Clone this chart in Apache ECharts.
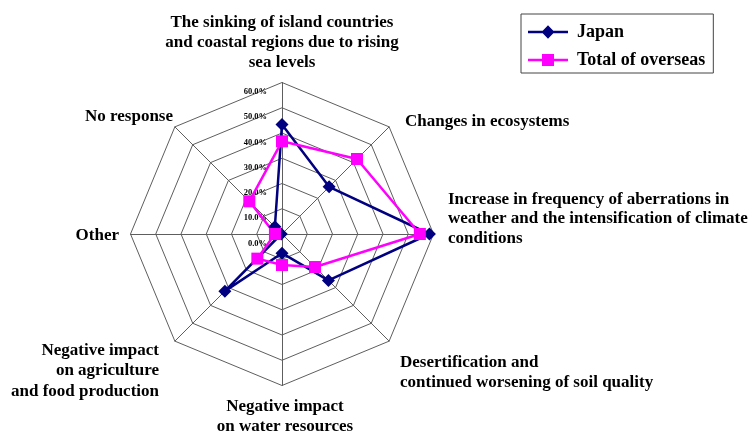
<!DOCTYPE html>
<html>
<head>
<meta charset="utf-8">
<script src="https://cdn.jsdelivr.net/npm/echarts@6/dist/echarts.min.js"></script>
<style>
  html, body { margin: 0; padding: 0; background: #fff; }
  #chart { width: 750px; height: 435px; }
</style>
</head>
<body>
<div id="chart"></div>
<script>
// Axes, listed counter-clockwise starting from the top spoke
const categories = [
  'The sinking of island countries\nand coastal regions due to rising\nsea levels',
  'No response',
  'Other',
  'Negative impact\non agriculture\nand food production',
  'Negative impact\non water resources',
  'Desertification and\ncontinued worsening of soil quality',
  'Increase in frequency of aberrations in\nweather and the intensification of climate\nconditions',
  'Changes in ecosystems'
];
const seriesNames = ['Japan', 'Total of overseas'];
const japanValues    = [43.4, 4.0, 0.3, 32.0, 7.6, 26.0, 58.4, 26.4];
const overseasValues = [36.7, 18.3, 2.8, 13.8, 12.3, 18.5, 54.6, 42.0];
const tickValues = [0, 10, 20, 30, 40, 50, 60];

const FONT = "'Liberation Serif', 'Times New Roman', serif";
const CX = 282, CY = 234, R = 151.5;

// Placement of each axis title: [x, top, align, lineHeight]
const namePlacement = [
  [282, 13, 'center', 20],
  [173, 107, 'right', 20],
  [119, 226, 'right', 20],
  [159, 340, 'right', 20.5],
  [285, 397, 'center', 20],
  [400, 352, 'left', 20.5],
  [448, 189.5, 'left', 19.5],
  [405, 112, 'left', 20]
];

const chart = echarts.init(document.getElementById('chart'), null, { renderer: 'canvas' });

const indicator = categories.map((name, i) => {
  const ind = { name: name, min: tickValues[0], max: tickValues[tickValues.length - 1] };
  if (i === 0) {
    // percentage scale printed beside the top spoke, just under each ring
    ind.axisLabel = {
      show: true,
      margin: 15,
      fontFamily: FONT,
      fontWeight: 'bold',
      fontSize: 8.5,
      color: '#000',
      verticalAlign: 'top',
      padding: [5, 0, 0, 0],
      formatter: v => v.toFixed(1) + '%'
    };
  }
  return ind;
});

const graphicTexts = categories.map((name, i) => {
  const p = namePlacement[i];
  return {
    type: 'text',
    x: p[0],
    y: p[1],
    style: {
      text: name,
      x: 0,
      y: 0,
      align: p[2],
      verticalAlign: 'top',
      lineHeight: p[3],
      font: 'bold 17px ' + FONT,
      fill: '#000'
    },
    silent: true
  };
});

const JAPAN_ICON = 'path://M0,6H40V8.5H0Z M20,0.5L26.5,7.25L20,14L13.5,7.25Z';
const OVERSEAS_ICON = 'path://M0,6H40V8.5H0Z M14,1.25H26V13.25H14Z';

chart.setOption({
  animation: false,
  backgroundColor: '#fff',
  legend: {
    orient: 'vertical',
    left: 521,
    top: 14,
    padding: [9, 8, 4, 7],
    itemGap: 10,
    itemWidth: 40,
    itemHeight: 14,
    borderColor: '#444',
    borderWidth: 1,
    data: [
      { name: seriesNames[0], icon: JAPAN_ICON },
      { name: seriesNames[1], icon: OVERSEAS_ICON }
    ],
    textStyle: {
      fontFamily: FONT,
      fontWeight: 'bold',
      fontSize: 18,
      color: '#000',
      padding: [0, 0, 0, 4]
    }
  },
  radar: {
    center: [CX, CY],
    radius: R,
    startAngle: 90,
    shape: 'polygon',
    splitNumber: tickValues.length - 1,
    indicator: indicator,
    axisName: { show: false },
    axisLine: { lineStyle: { color: '#5e5e5e', width: 1 } },
    splitLine: { lineStyle: { color: '#5e5e5e', width: 1 } },
    splitArea: { show: false },
    axisTick: { show: false },
    axisLabel: { show: false }
  },
  graphic: graphicTexts,
  series: [
    {
      name: seriesNames[0],
      type: 'radar',
      symbol: 'diamond',
      symbolSize: 13,
      lineStyle: { color: '#000080', width: 2.5 },
      itemStyle: { color: '#000080' },
      data: [{ name: seriesNames[0], value: japanValues }]
    },
    {
      name: seriesNames[1],
      type: 'radar',
      symbol: 'rect',
      symbolSize: 12,
      lineStyle: { color: '#ff00ff', width: 2.5 },
      itemStyle: { color: '#ff00ff' },
      data: [{ name: seriesNames[1], value: overseasValues }]
    }
  ]
});
</script>
</body>
</html>
